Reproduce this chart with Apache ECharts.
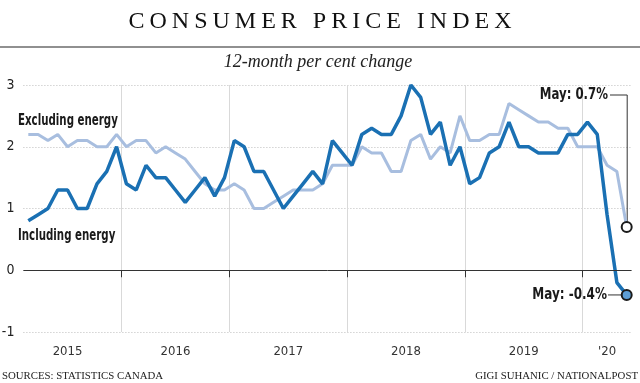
<!DOCTYPE html>
<html><head><meta charset="utf-8">
<script src="https://cdn.jsdelivr.net/npm/echarts@6/dist/echarts.min.js"></script>
<style>html,body{margin:0;padding:0;background:#fff}#c{width:640px;height:383px}</style>
</head><body><div id="c"></div>
<script>
// ---- data ----
const startYear = 2015, startMonth = 4; // first observation: April 2015
const includingEnergy = [
  0.8,0.9,1.0,1.3,1.3,1.0,1.0,1.4,1.6,
  2.0,1.4,1.3,1.7,1.5,1.5,1.3,1.1,1.3,1.5,1.2,1.5,
  2.1,2.0,1.6,1.6,1.3,1.0,1.2,1.4,1.6,1.4,2.1,1.9,
  1.7,2.2,2.3,2.2,2.2,2.5,3.0,2.8,2.2,2.4,1.7,2.0,
  1.4,1.5,1.9,2.0,2.4,2.0,2.0,1.9,1.9,1.9,2.2,2.2,
  2.4,2.2,0.9,-0.2,-0.4
];
const excludingEnergy = [
  2.2,2.2,2.1,2.2,2.0,2.1,2.1,2.0,2.0,
  2.2,2.0,2.1,2.1,1.9,2.0,1.9,1.8,1.6,1.4,1.3,1.3,
  1.4,1.3,1.0,1.0,1.1,1.2,1.3,1.3,1.3,1.4,1.7,1.7,
  1.7,2.0,1.9,1.9,1.6,1.6,2.1,2.2,1.8,2.0,1.9,2.5,
  2.1,2.1,2.2,2.2,2.7,2.6,2.5,2.4,2.4,2.3,2.3,2.0,
  2.0,2.0,1.7,1.6,0.7
];
const yearTickValues = [13, 24, 36, 48, 60];          // year dividers (months since Jan 2015)
const yearLabelValues = [7.5, 18.5, 30, 42, 54, 62.5];
const yearLabels = ['2015', '2016', '2017', '2018', '2019', "'20"];
const yTicks = [-1, 0, 1, 2, 3];

const TITLE = 'CONSUMER PRICE INDEX';
const SUBTITLE = '12-month per cent change';

// month positions (mid-month, in months since Jan 2015)
const months = [];
for (let i = 0; i < includingEnergy.length; i++) {
  const m0 = (startYear - 2015) * 12 + (startMonth - 1) + i;
  months.push(m0 + 0.5);
}

// letter-spacing for the title only (canvas state saved/restored)
const origFill = CanvasRenderingContext2D.prototype.fillText;
CanvasRenderingContext2D.prototype.fillText = function (t, x, y, w) {
  if (t === TITLE && 'letterSpacing' in this) {
    this.save();
    this.letterSpacing = '5px';
    origFill.call(this, t, x + 2.5, y);
    this.restore();
    return;
  }
  return origFill.apply(this, arguments);
};

const SANS = "'Liberation Sans Narrow', 'DejaVu Sans Condensed', 'Roboto', sans-serif";
const SERIF = "'Liberation Serif', 'DejaVu Serif', serif";
const DARK = '#1a70b3';
const LIGHT = '#a8bedf';

function buildData(vals, endFill) {
  return vals.map((v, i) => {
    if (i === vals.length - 1) {
      return { value: [months[i], v], symbol: 'circle', symbolSize: 10,
        itemStyle: { color: endFill, borderColor: '#1b1b1b', borderWidth: 2 } };
    }
    return [months[i], v];
  });
}

const chart = echarts.init(document.getElementById('c'), null, { renderer: 'canvas' });
const option = {
  animation: false,
  backgroundColor: '#fff',
  grid: { left: 23.4, right: 8.4, top: 85, bottom: 51, containLabel: false, outerBoundsMode: 'none' },
  xAxis: {
    type: 'value', min: 3, max: 65,
    axisLine: { show: false },
    axisTick: { show: true, customValues: yearTickValues, length: 7, lineStyle: { color: '#333', width: 1 } },
    splitLine: { show: true, lineStyle: { color: '#d9d9d9', width: 1, type: 'solid' } },
    axisLabel: {
      customValues: yearLabelValues, margin: 13,
      fontFamily: SANS, fontSize: 13, color: '#333',
      formatter: v => { const k = yearLabelValues.indexOf(v); return k >= 0 ? yearLabels[k] : ''; }
    }
  },
  yAxis: {
    type: 'value', min: yTicks[0], max: yTicks[yTicks.length - 1], interval: 1,
    axisLine: { show: false }, axisTick: { show: false },
    splitLine: { show: true, lineStyle: { color: '#bdbdbd', width: 1, type: [1, 2] } },
    axisLabel: { margin: 9, fontFamily: SANS, fontSize: 14, color: '#222' }
  },
  series: [
    {
      name: 'Excluding energy', type: 'line', symbol: 'none', z: 3,
      lineStyle: { color: LIGHT, width: 3 }, itemStyle: { color: LIGHT },
      data: buildData(excludingEnergy, '#ffffff'),
      markLine: {
        silent: true, symbol: 'none', label: { show: false },
        lineStyle: { color: '#333', width: 1, type: 'solid' },
        data: [{ yAxis: 0 }]
      }
    },
    {
      name: 'Including energy', type: 'line', symbol: 'none', z: 4,
      lineStyle: { color: DARK, width: 3.5 }, itemStyle: { color: DARK },
      data: buildData(includingEnergy, '#5e9fd6')
    }
  ]
};
chart.setOption(option);

const n = months.length - 1;
const pEx = chart.convertToPixel({ gridIndex: 0 }, [months[n], excludingEnergy[n]]);
const pIn = chart.convertToPixel({ gridIndex: 0 }, [months[n], includingEnergy[n]]);
const calloutY = 95;

chart.setOption({
  graphic: [
    { type: 'text', x: 320, y: 22, style: { text: TITLE, font: "24px " + SERIF, fill: '#111', textAlign: 'center', textVerticalAlign: 'middle' } },
    { type: 'line', shape: { x1: 0, y1: 47, x2: 640, y2: 47 }, style: { stroke: '#6b6b6b', lineWidth: 1.5 } },
    { type: 'text', x: 318, y: 62, style: { text: SUBTITLE, font: "italic 18px " + SERIF, fill: '#222', textAlign: 'center', textVerticalAlign: 'middle' } },
    { type: 'text', x: 2, y: 376, style: { text: 'SOURCES: STATISTICS CANADA', font: "10.8px " + SERIF, fill: '#222', textVerticalAlign: 'middle', textAlign: 'left' } },
    { type: 'text', x: 638, y: 376, style: { text: 'GIGI SUHANIC / NATIONALPOST', font: "10.8px " + SERIF, fill: '#222', textVerticalAlign: 'middle', textAlign: 'right' } },
    { type: 'text', x: 18, y: 121, scaleX: 0.76, style: { text: 'Excluding energy', font: "bold 15px " + SANS, fill: '#1a1a1a', textVerticalAlign: 'middle', textAlign: 'left' } },
    { type: 'text', x: 18, y: 236, scaleX: 0.76, style: { text: 'Including energy', font: "bold 15px " + SANS, fill: '#1a1a1a', textVerticalAlign: 'middle', textAlign: 'left' } },
    { type: 'polyline', z: 1, shape: { points: [[pEx[0] + 0.5, pEx[1] - 4], [pEx[0] + 0.5, calloutY], [610, calloutY]] }, style: { stroke: '#333', lineWidth: 1, fill: null } },
    { type: 'text', x: 608, y: calloutY, scaleX: 0.87, style: { text: 'May: 0.7%', font: "bold 15px " + SANS, fill: '#1a1a1a', textVerticalAlign: 'middle', textAlign: 'right' } },
    { type: 'line', z: 1, shape: { x1: 608, y1: pIn[1], x2: pIn[0] - 4, y2: pIn[1] }, style: { stroke: '#333', lineWidth: 1 } },
    { type: 'text', x: 607, y: pIn[1], scaleX: 0.89, style: { text: 'May: -0.4%', font: "bold 15px " + SANS, fill: '#1a1a1a', textVerticalAlign: 'middle', textAlign: 'right' } }
  ]
});
</script>
</body></html>
